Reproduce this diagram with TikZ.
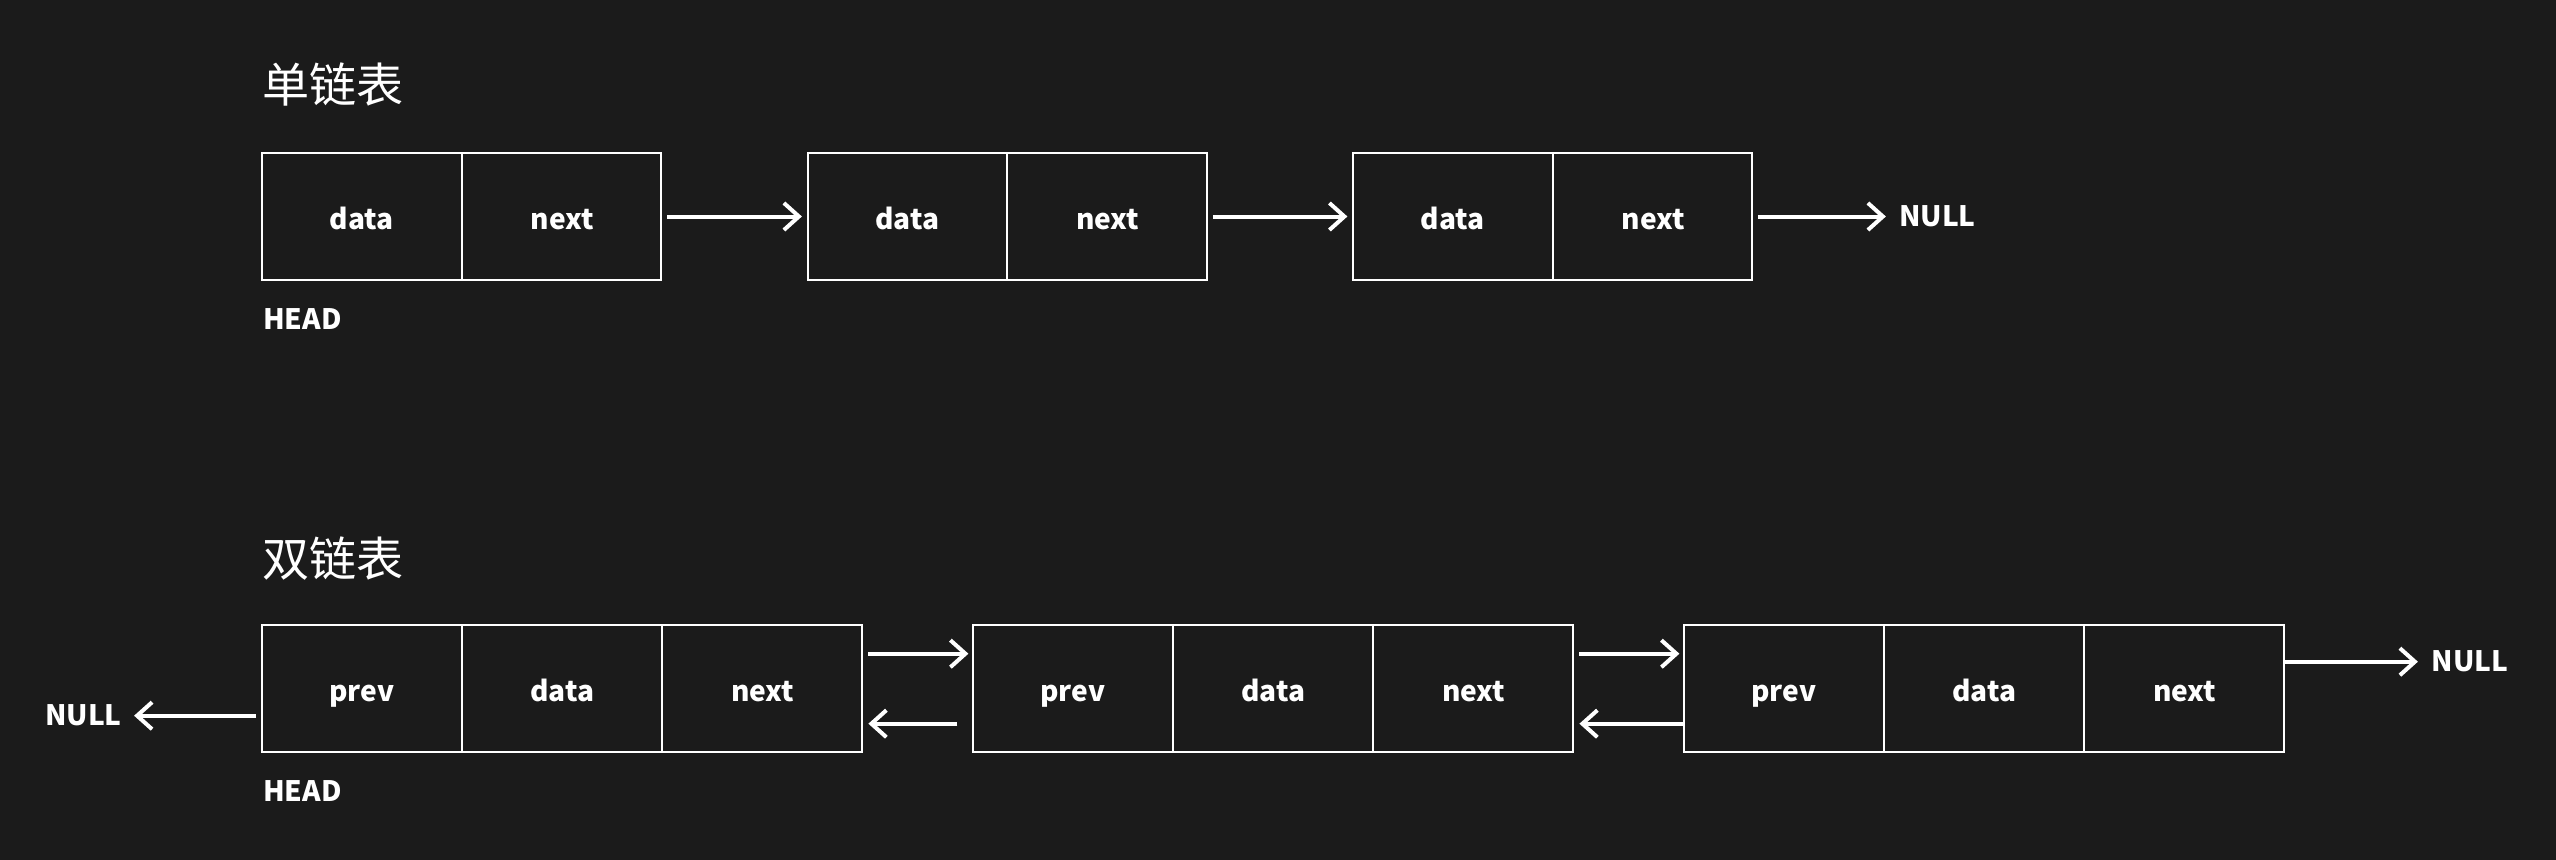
\documentclass[tikz,border=0pt]{standalone}
\usepackage{fontspec}
\setmainfont{Noto Sans CJK SC}
\usetikzlibrary{positioning, chains, shapes.multipart, arrows.meta}
\definecolor{bg}{HTML}{1B1B1B}

\begin{document}
\begin{tikzpicture}[list/.style={rectangle split, rectangle split horizontal,
    rectangle split part align=base,
    draw=white, line width=0.02cm, text width=1.985cm, inner xsep=0pt, align=center,
    text height=0.3cm, text depth=0.05cm,
    minimum height=1.27cm, outer sep=0pt, text=white,
    font=\fontsize{8}{10}\selectfont\bfseries},
  link/.style={->, draw=white, line width=0.04cm},
  tag/.style={text=white, inner sep=0pt, font=\fontsize{8}{10}\selectfont\bfseries},
  title/.style={text=white, inner sep=0pt, font=\fontsize{13.4}{16}\selectfont},
  >={Straight Barb[length=1.5mm,width=2.7mm]}]

  \fill[bg] (0,0) rectangle (25.56,-8.60);

  % single list
  \node[title, anchor=west] (T1) at (2.62,-0.85) {单链表};
  \begin{scope}[start chain=going right, node distance=1.465cm]
    \node[list, rectangle split parts=2, on chain, anchor=west] (A) at (2.624,-2.165) {data \nodepart{two} next};
    \node[list, rectangle split parts=2, on chain] (B) {data \nodepart{two} next};
    \node[list, rectangle split parts=2, on chain] (C) {data \nodepart{two} next};
  \end{scope}
  \node[tag, anchor=west] (H1) at ([yshift=-0.395cm]A.south west) {HEAD};
  \node[tag, anchor=west] (N1) at ([xshift=1.46cm]C.east) {NULL};
  \draw[link, shorten <=0.06cm, shorten >=0.06cm] (A) -- (B);
  \draw[link, shorten <=0.06cm, shorten >=0.06cm] (B) -- (C);
  \draw[link, shorten <=0.06cm, shorten >=0.125cm] (C) -- (N1);

  % double list
  \node[title, anchor=west] (T2) at (2.62,-5.59) {双链表};
  \begin{scope}[start chain=going right, node distance=1.115cm]
    \node[list, rectangle split parts=3, on chain, anchor=west] (D) at (2.624,-6.887) {prev \nodepart{two} data \nodepart{three} next};
    \node[list, rectangle split parts=3, on chain] (E) {prev \nodepart{two} data \nodepart{three} next};
    \node[list, rectangle split parts=3, on chain] (F) {prev \nodepart{two} data \nodepart{three} next};
  \end{scope}
  \node[tag, anchor=west] (H2) at ([yshift=-0.39cm]D.south west) {HEAD};
  \node[tag, anchor=east] (N2) at ([xshift=-1.40cm, yshift=-0.27cm]D.west) {NULL};
  \node[tag, anchor=west] (N3) at ([xshift=1.47cm, yshift=0.27cm]F.east) {NULL};
  \draw[link, shorten <=0.065cm, shorten >=0.05cm] ([yshift=0.35cm]D.east) -- ([yshift=0.35cm]E.west);
  \draw[link, shorten <=0.16cm, shorten >=0.065cm] ([yshift=-0.35cm]E.west) -- ([yshift=-0.35cm]D.east);
  \draw[link, shorten <=0.065cm, shorten >=0.05cm] ([yshift=0.35cm]E.east) -- ([yshift=0.35cm]F.west);
  \draw[link, shorten >=0.065cm] ([yshift=-0.35cm]F.west) -- ([yshift=-0.35cm]E.east);
  \draw[link, shorten <=0.064cm, shorten >=0.117cm] ([yshift=-0.27cm]D.west) -- (N2);
  \draw[link, shorten >=0.13cm] ([yshift=0.27cm]F.east) -- (N3);
\end{tikzpicture}
\end{document}
